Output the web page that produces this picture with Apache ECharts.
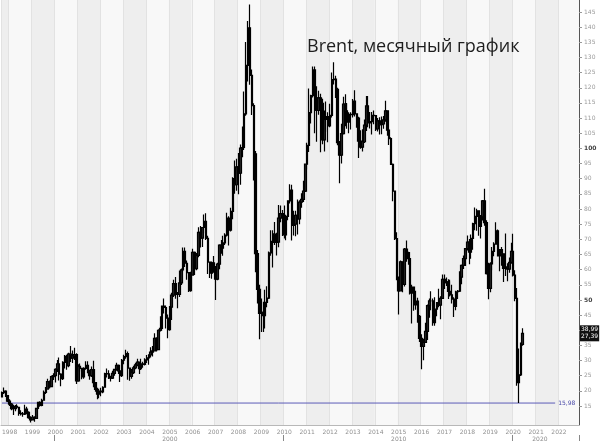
<!DOCTYPE html>
<html>
<head>
<meta charset="utf-8">
<script src="https://cdn.jsdelivr.net/npm/echarts@6/dist/echarts.min.js"></script>
<style>
html,body{margin:0;padding:0;background:#fff;}
#chart{width:600px;height:442px;}
</style>
</head>
<body>
<div id="chart"></div>
<script>
// Axis month categories: Sep 1997 .. Nov 2022
const startYear = 1997, startMonth = 9, monthCount = 303;
const months = [];
for (let i = 0; i < monthCount; i++) {
  const m = startMonth - 1 + i;
  const y = startYear + Math.floor(m / 12);
  const mm = (m % 12) + 1;
  months.push(y + '-' + (mm < 10 ? '0' + mm : mm));
}

// Monthly Brent OHLC, Sep 1997 .. Jun 2020
const opens = [
  18.0, 19.4, 19.9, 18.4,
  16.6, 15.6, 14.1, 14.4, 14.9, 14.6, 12.6, 12.4, 12.3, 14.0, 12.9, 11.2,
  10.4, 11.3, 10.9, 14.2, 16.2, 15.2, 16.9, 19.5, 20.6, 23.1, 21.4, 24.7,
  25.0, 27.1, 28.9, 25.5, 24.0, 29.4, 31.4, 28.3, 32.1, 30.8, 31.5, 32.0,
  23.3, 28.1, 27.4, 24.6, 27.4, 28.4, 26.6, 25.0, 27.0, 22.7, 20.5, 18.9,
  19.9, 19.7, 21.2, 25.7, 25.6, 24.7, 24.2, 25.8, 27.1, 28.4, 26.6, 25.0,
  30.1, 31.3, 32.3, 27.5, 24.8, 26.0, 27.6, 28.6, 29.5, 27.3, 28.9, 28.7,
  30.2, 30.9, 31.9, 32.8, 33.2, 37.3, 33.6, 40.0, 40.6, 48.0, 47.5, 44.0,
  40.2, 47.6, 51.6, 55.4, 51.9, 51.8, 55.6, 59.9, 66.0, 62.1, 59.0, 53.1,
  58.2, 65.7, 60.3, 64.7, 72.3, 70.4, 73.9, 75.9, 70.3, 62.5, 58.8, 62.2,
  60.9, 56.9, 61.8, 68.1, 67.1, 68.8, 71.4, 77.0, 73.0, 79.2, 90.0, 88.0,
  93.9, 91.8, 100.1, 100.3, 111.4, 127.4, 139.8, 124.1, 114.1, 98.2, 65.3, 53.5,
  45.6, 45.9, 44.8, 49.2, 50.6, 65.5, 69.3, 71.7, 69.0, 69.1, 77.0, 78.5,
  77.9, 71.5, 77.6, 82.7, 86.2, 74.6, 75.0, 77.9, 76.7, 82.3, 83.2, 85.9,
  94.8, 101.0, 111.8, 117.4, 125.9, 116.7, 112.5, 116.7, 114.9, 102.8, 109.6, 110.5,
  107.4, 110.9, 122.7, 122.9, 119.5, 101.9, 97.8, 104.9, 114.6, 112.4, 108.7, 111.2,
  111.1, 115.6, 111.4, 110.0, 102.4, 100.4, 102.2, 107.7, 114.0, 108.4, 108.8, 110.9,
  110.8, 106.4, 109.1, 107.8, 108.1, 109.4, 112.4, 106.0, 103.2, 94.7, 85.9, 70.2,
  57.3, 53.0, 62.6, 55.1, 66.8, 65.6, 63.6, 52.2, 54.2, 48.4, 49.6, 44.6,
  37.3, 34.7, 36.0, 39.6, 48.1, 49.7, 49.7, 42.5, 47.0, 49.1, 48.3, 50.5,
  56.8, 55.7, 56.0, 52.8, 51.7, 50.3, 47.9, 52.7, 52.9, 57.5, 61.4, 63.6,
  66.9, 69.1, 65.8, 70.3, 75.2, 77.6, 79.4, 74.3, 77.4, 82.7, 75.5, 58.7,
  53.8, 61.9, 66.0, 68.4, 72.8, 64.5, 66.6, 65.2, 60.4, 60.8, 60.2, 62.4,
  66.0, 58.2, 50.5, 22.7, 25.3, 35.3
];
const closes = [
  19.4, 19.9, 18.4, 16.6,
  15.6, 14.1, 14.4, 14.9, 14.6, 12.6, 12.4, 12.3, 14.0, 12.9, 11.2, 10.4,
  11.3, 10.9, 14.2, 16.2, 15.2, 16.9, 19.5, 20.6, 23.1, 21.4, 24.7, 25.0,
  27.1, 28.9, 25.5, 24.0, 29.4, 31.4, 28.3, 32.1, 30.8, 31.5, 32.0, 23.3,
  28.1, 27.4, 24.6, 27.4, 28.4, 26.6, 25.0, 27.0, 22.7, 20.5, 18.9, 19.9,
  19.7, 21.2, 25.7, 25.6, 24.7, 24.2, 25.8, 27.1, 28.4, 26.6, 25.0, 30.1,
  31.3, 32.3, 27.5, 24.8, 26.0, 27.6, 28.6, 29.5, 27.3, 28.9, 28.7, 30.2,
  30.9, 31.9, 32.8, 33.2, 37.3, 33.6, 40.0, 40.6, 48.0, 47.5, 44.0, 40.2,
  47.6, 51.6, 55.4, 51.9, 51.8, 55.6, 59.9, 66.0, 62.1, 59.0, 53.1, 58.2,
  65.7, 60.3, 64.7, 72.3, 70.4, 73.9, 75.9, 70.3, 62.5, 58.8, 62.2, 60.9,
  56.9, 61.8, 68.1, 67.1, 68.8, 71.4, 77.0, 73.0, 79.2, 90.0, 88.0, 93.9,
  91.8, 100.1, 100.3, 111.4, 127.4, 139.8, 124.1, 114.1, 98.2, 65.3, 53.5, 45.6,
  45.9, 44.8, 49.2, 50.6, 65.5, 69.3, 71.7, 69.0, 69.1, 77.0, 78.5, 77.9,
  71.5, 77.6, 82.7, 86.2, 74.6, 75.0, 77.9, 76.7, 82.3, 83.2, 85.9, 94.8,
  101.0, 111.8, 117.4, 125.9, 116.7, 112.5, 116.7, 114.9, 102.8, 109.6, 110.5, 107.4,
  110.9, 122.7, 122.9, 119.5, 101.9, 97.8, 104.9, 114.6, 112.4, 108.7, 111.2, 111.1,
  115.6, 111.4, 110.0, 102.4, 100.4, 102.2, 107.7, 114.0, 108.4, 108.8, 110.9, 110.8,
  106.4, 109.1, 107.8, 108.1, 109.4, 112.4, 106.0, 103.2, 94.7, 85.9, 70.2, 57.3,
  53.0, 62.6, 55.1, 66.8, 65.6, 63.6, 52.2, 54.2, 48.4, 49.6, 44.6, 37.3,
  34.7, 36.0, 39.6, 48.1, 49.7, 49.7, 42.5, 47.0, 49.1, 48.3, 50.5, 56.8,
  55.7, 56.0, 52.8, 51.7, 50.3, 47.9, 52.7, 52.9, 57.5, 61.4, 63.6, 66.9,
  69.1, 65.8, 70.3, 75.2, 77.6, 79.4, 74.3, 77.4, 82.7, 75.5, 58.7, 53.8,
  61.9, 66.0, 68.4, 72.8, 64.5, 66.6, 65.2, 60.4, 60.8, 60.2, 62.4, 66.0,
  58.2, 50.5, 22.7, 25.3, 35.3, 38.99
];
const lows = [
  17.8, 19.0, 18.0, 16.3,
  15.0, 13.6, 12.0, 13.3, 13.9, 11.8, 11.9, 11.5, 12.0, 12.3, 10.8, 9.6,
  10.2, 9.8, 10.7, 13.8, 14.8, 14.9, 16.7, 19.0, 20.4, 20.8, 21.2, 23.6,
  22.8, 26.2, 23.4, 21.5, 23.6, 27.4, 27.0, 27.8, 29.5, 29.2, 30.2, 22.3,
  23.0, 26.4, 23.8, 24.0, 27.0, 25.8, 23.7, 24.6, 21.2, 19.7, 17.2, 17.6,
  18.2, 19.2, 21.0, 24.4, 23.9, 23.1, 23.9, 25.0, 26.6, 25.6, 22.9, 24.6,
  28.8, 30.6, 23.7, 23.3, 24.0, 25.6, 27.1, 28.1, 25.6, 26.9, 27.6, 28.4,
  29.2, 28.6, 31.0, 31.3, 33.0, 33.0, 33.4, 39.6, 39.9, 45.5, 40.6, 37.4,
  39.8, 43.4, 51.0, 50.4, 47.3, 51.0, 54.9, 59.4, 60.9, 56.7, 52.6, 52.7,
  58.0, 58.2, 59.8, 64.1, 67.3, 67.5, 72.0, 69.8, 58.6, 57.2, 57.0, 59.0,
  50.0, 56.5, 60.1, 65.2, 64.6, 68.1, 70.9, 68.0, 72.6, 76.6, 85.0, 86.0,
  84.9, 88.0, 97.1, 99.5, 110.8, 122.1, 121.0, 111.0, 89.4, 59.1, 48.8, 37.0,
  39.4, 39.4, 40.6, 47.6, 50.3, 64.6, 60.7, 68.1, 64.7, 67.4, 75.6, 71.1,
  70.3, 69.7, 76.3, 81.8, 69.6, 71.3, 71.0, 71.6, 75.0, 80.4, 82.3, 85.6,
  93.0, 98.8, 108.2, 116.8, 105.0, 102.2, 111.1, 98.7, 101.4, 99.0, 105.5, 102.0,
  107.0, 110.2, 121.1, 116.6, 101.0, 88.5, 95.0, 104.6, 107.3, 106.5, 105.0, 106.2,
  110.2, 110.5, 106.8, 96.8, 99.9, 99.0, 101.8, 105.7, 107.0, 106.6, 104.6, 108.0,
  105.7, 105.6, 104.6, 104.7, 106.5, 108.8, 104.2, 101.1, 94.6, 82.6, 69.8, 56.5,
  45.2, 52.8, 52.5, 54.4, 62.6, 61.6, 51.8, 42.2, 46.4, 46.8, 42.5, 36.1,
  27.1, 30.1, 35.8, 36.8, 44.1, 46.6, 41.5, 41.5, 44.6, 47.6, 43.6, 50.7,
  53.6, 54.6, 50.3, 51.1, 48.8, 44.4, 46.6, 50.3, 52.6, 55.2, 60.2, 61.2,
  66.3, 61.8, 63.6, 66.6, 73.0, 72.8, 71.2, 70.3, 76.2, 74.5, 58.4, 50.2,
  52.5, 59.8, 64.4, 68.3, 64.3, 59.5, 61.3, 55.9, 57.9, 56.2, 59.0, 61.9,
  57.7, 49.6, 21.7, 15.98, 24.9, 34.9
];
const highs = [
  19.8, 21.1, 20.2, 18.6,
  17.2, 16.0, 15.4, 15.3, 15.6, 14.8, 13.6, 13.0, 15.4, 14.8, 13.3, 11.6,
  12.0, 11.6, 14.4, 16.4, 16.6, 17.4, 20.1, 21.3, 24.0, 23.4, 25.1, 25.8,
  27.5, 30.2, 31.0, 25.8, 29.8, 31.8, 31.9, 32.6, 34.8, 33.3, 34.2, 32.4,
  28.8, 29.0, 27.6, 27.8, 29.8, 29.8, 27.0, 28.0, 29.9, 22.9, 21.0, 20.4,
  21.0, 21.5, 26.0, 27.4, 26.8, 25.0, 26.6, 27.3, 29.3, 28.7, 26.8, 30.5,
  31.9, 33.6, 33.0, 27.6, 27.2, 28.3, 29.3, 30.6, 29.6, 30.6, 29.6, 30.8,
  31.8, 32.0, 34.4, 34.8, 39.0, 37.7, 40.3, 44.6, 48.2, 50.5, 48.2, 45.2,
  48.0, 52.4, 56.7, 57.6, 52.6, 59.7, 60.4, 67.3, 67.3, 63.0, 59.2, 59.3,
  66.9, 66.0, 65.5, 74.0, 74.4, 74.0, 78.2, 78.6, 71.2, 62.7, 62.7, 64.5,
  61.2, 62.3, 68.4, 69.8, 71.2, 72.0, 78.8, 77.6, 80.4, 90.5, 96.0, 96.6,
  98.5, 101.3, 107.2, 118.8, 135.1, 142.0, 147.5, 126.0, 114.9, 99.1, 66.5, 55.0,
  50.5, 49.4, 53.4, 54.5, 66.0, 73.0, 73.0, 75.7, 72.2, 81.3, 81.2, 79.7,
  81.2, 77.9, 82.9, 88.2, 88.0, 79.4, 79.4, 83.1, 82.9, 85.2, 89.3, 95.0,
  101.9, 119.8, 117.7, 127.0, 127.0, 120.5, 119.0, 118.0, 116.4, 112.5, 115.5, 111.9,
  114.7, 125.0, 128.4, 124.0, 120.0, 102.4, 108.1, 117.0, 117.9, 115.0, 111.9, 111.9,
  116.3, 119.2, 111.5, 110.4, 106.0, 106.3, 109.5, 117.3, 117.3, 112.0, 112.0, 112.5,
  110.9, 110.0, 110.3, 110.5, 110.7, 115.7, 112.6, 106.5, 103.7, 95.0, 85.9, 72.3,
  57.7, 63.0, 62.8, 67.1, 69.6, 65.9, 63.7, 55.0, 54.4, 53.0, 50.7, 45.0,
  38.7, 37.2, 42.5, 48.5, 50.5, 52.9, 50.5, 50.9, 49.2, 53.7, 51.2, 58.4,
  58.4, 57.4, 56.8, 56.7, 55.0, 50.9, 53.0, 53.3, 59.5, 61.7, 64.7, 67.1,
  71.3, 70.1, 71.6, 75.5, 80.5, 80.1, 79.4, 78.0, 83.0, 86.7, 76.3, 62.3,
  62.4, 67.5, 69.0, 75.6, 73.2, 66.8, 67.5, 65.4, 71.9, 62.1, 64.0, 68.9,
  71.8, 59.8, 53.9, 34.0, 36.0, 40.7
];

// Price axis tick labels
const yTicks = [15,20,25,30,35,40,45,50,55,60,65,70,75,80,85,90,95,100,105,110,115,120,125,130,135,140,145];
const boldTicks = [50, 100];
// Decade labels shown under the year labels
const decadeLabelMonths = ['2005-01', '2015-01', '2021-03'];
const decadeStartMonths = ['2000-01', '2010-01', '2020-01'];
const titleText = 'Brent, месячный график';
const infoLine2 = '27,39';
const levelFromMonth = '2020-01';   // horizontal level = lowest low since this month
const levelLineEndMonth = '2021-11';

const candleData = opens.map((o, i) => [o, closes[i], lows[i], highs[i]]);
const levelStart = months.indexOf(levelFromMonth);
const levelValue = Math.min.apply(null, lows.slice(levelStart));
const lastClose = closes[closes.length - 1];
const fmt = v => v.toFixed(2).replace('.', ',');
const isYearStart = i => i === 0 || months[i].slice(5) === '01';
const isYearLabel = i => months[i].slice(5) === '01';

const chart = echarts.init(document.getElementById('chart'), null, {renderer: 'canvas'});
chart.setOption({
  animation: false,
  backgroundColor: '#ffffff',
  textStyle: {fontFamily: 'DejaVu Sans'},
  title: {
    text: titleText, left: 302, top: 33,
    textStyle: {fontSize: 18, fontWeight: 'normal', color: '#1e1e1e', fontFamily: 'Open Sans'}
  },
  grid: {left: 1, right: 21, top: 0, bottom: 17, outerBoundsMode: 'none'},
  xAxis: [{
    type: 'category', data: months, boundaryGap: true,
    axisLine: {show: true, lineStyle: {color: '#b8b8b8', width: 1}},
    axisTick: {show: false},
    axisLabel: {interval: isYearLabel, formatter: v => v.slice(0, 4), fontSize: 6, color: '#909090', margin: 4},
    splitArea: {show: true, interval: isYearStart, areaStyle: {color: ['#eeeeee', '#f8f8f8']}},
    splitLine: {show: true, interval: isYearStart, lineStyle: {color: '#e2e2e2', width: 1}}
  }, {
    type: 'category', data: months, boundaryGap: true, position: 'bottom', offset: 10,
    axisLine: {show: false},
    axisTick: {show: true, interval: i => decadeStartMonths.indexOf(months[i]) >= 0, length: 6, inside: false, lineStyle: {color: '#888'}},
    axisLabel: {interval: i => decadeLabelMonths.indexOf(months[i]) >= 0,
      formatter: v => String(Math.floor(+v.slice(0, 4) / 10) * 10), fontSize: 6, color: '#8a8a8a', margin: 1},
    splitArea: {show: false}, splitLine: {show: false}
  }],
  yAxis: {
    type: 'value', position: 'right', min: 8.74, max: 148.96,
    splitLine: {show: false}, splitArea: {show: false},
    axisLine: {show: true, lineStyle: {color: '#555', width: 1}},
    axisTick: {show: true, customValues: yTicks, length: 3, inside: false, lineStyle: {color: '#999'}},
    axisLabel: {
      customValues: yTicks, fontSize: 6, color: '#9a9a9a', margin: 5,
      formatter: v => boldTicks.indexOf(v) >= 0 ? '{b|' + v + '}' : String(v),
      rich: {b: {fontSize: 6, fontWeight: 'bold', color: '#444'}}
    }
  },
  series: [{
    type: 'line',
    name: 'level',
    xAxisIndex: 0, yAxisIndex: 0,
    data: [[months[0], levelValue], [levelLineEndMonth, levelValue]],
    showSymbol: false, symbol: 'none', silent: true, z: 1,
    lineStyle: {color: '#5c5cb8', width: 1},
    itemStyle: {color: '#5c5cb8'},
    endLabel: {show: true, formatter: () => fmt(levelValue), color: '#4a4aa8', fontSize: 6, distance: 3}
  }, {
    type: 'candlestick',
    xAxisIndex: 0, yAxisIndex: 0, z: 2,
    data: candleData,
    barWidth: 2,
    itemStyle: {color: '#2a2a2a', color0: '#000', borderColor: '#000', borderColor0: '#000', borderWidth: 1.2},
    markLine: {
      silent: true, symbol: 'none', animation: false,
      data: [
        {
          yAxis: lastClose, lineStyle: {color: 'rgba(0,0,0,0)', width: 1},
          label: {show: true, position: 'end', distance: 1, formatter: fmt(lastClose) + '\n' + infoLine2,
            backgroundColor: '#111', color: '#fff', fontSize: 6, lineHeight: 7, padding: [1, 1, 1, 1]}
        }
      ]
    }
  }]
});
</script>
</body>
</html>
